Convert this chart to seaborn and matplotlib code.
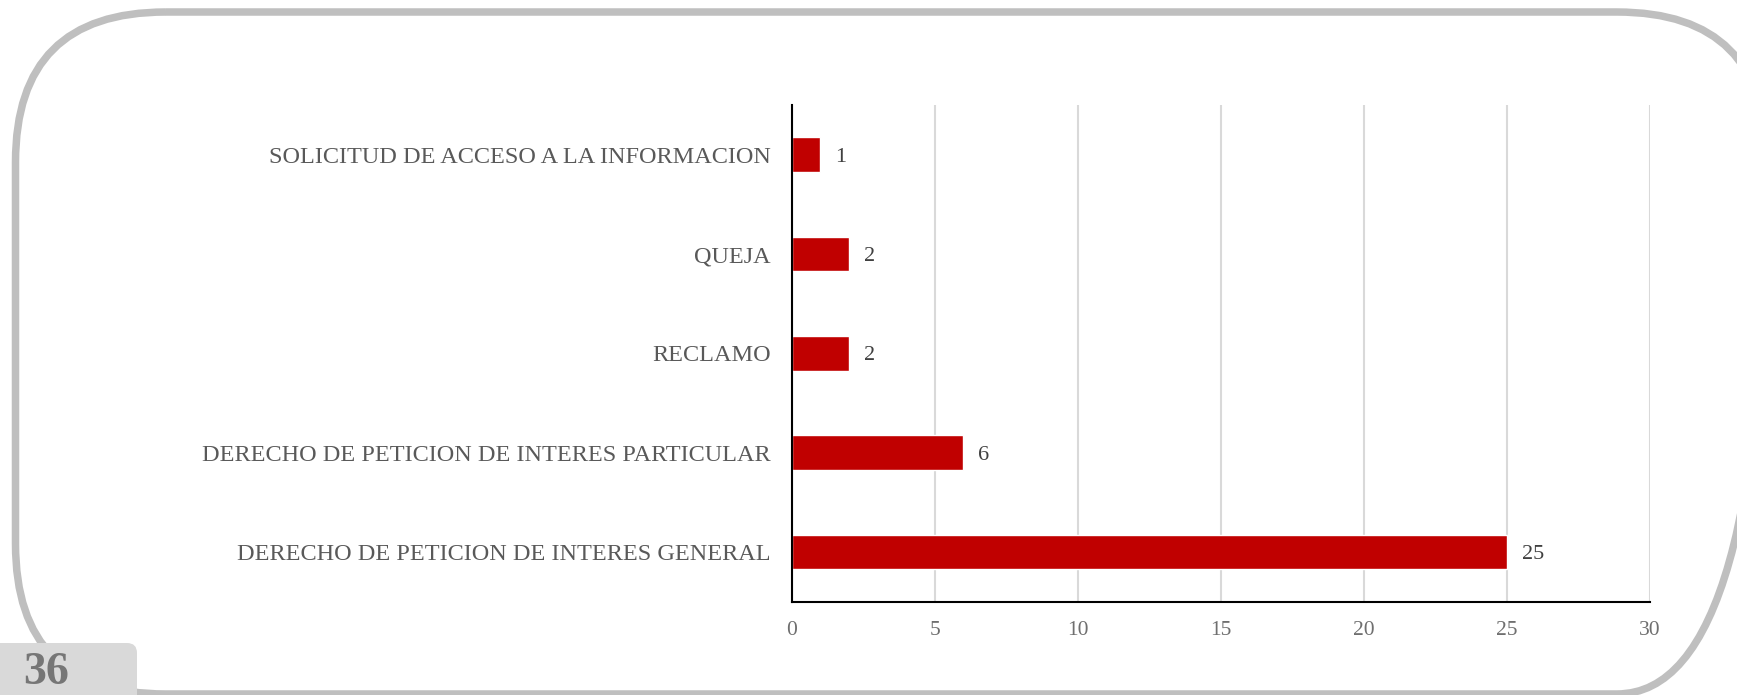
import matplotlib
matplotlib.use("Agg")
import matplotlib.pyplot as plt
import seaborn as sns
import pandas as pd
from matplotlib.patches import FancyBboxPatch

categories = [
    "SOLICITUD DE ACCESO A LA INFORMACION",
    "QUEJA",
    "RECLAMO",
    "DERECHO DE PETICION DE INTERES PARTICULAR",
    "DERECHO DE PETICION DE INTERES GENERAL",
]
values = [1, 2, 2, 6, 25]
x_ticks = [0, 5, 10, 15, 20, 25, 30]
page_number = "36"

sns.set_theme(style="white")
plt.rcParams["font.family"] = ["Liberation Serif", "DejaVu Serif"]

W, H = 1737, 695
fig = plt.figure(figsize=(W / 100, H / 100), dpi=100)

# background overlay for border decorations
bg = fig.add_axes([0, 0, 1, 1], zorder=0)
bg.set_xlim(0, W)
bg.set_ylim(H, 0)
bg.axis("off")
border = FancyBboxPatch((15.5, 12), 1767 - 15.5, 694 - 12,
                        boxstyle="round,pad=0,rounding_size=150",
                        facecolor="none", edgecolor="#BFBFBF", linewidth=5.4)
bg.add_patch(border)
box = FancyBboxPatch((-30, 643), 167, 100,
                     boxstyle="round,pad=0,rounding_size=10",
                     facecolor="#D9D9D9", edgecolor="none")
bg.add_patch(box)
bg.text(46, 694, page_number, ha="center", va="bottom", fontsize=33,
        fontweight="bold", color="#767676")

ax = fig.add_axes([791.5 / W, 1 - 601.7 / H, (1650 - 791.5) / W, (601.7 - 105) / H], zorder=1)
ax.patch.set_alpha(0)
df = pd.DataFrame({"cat": categories, "val": values})
sns.barplot(data=df, x="val", y="cat", orient="h", color="#C00000",
            width=0.35, saturation=1, ax=ax, order=categories)

ax.set_xlim(0, 30)
ax.set_ylim(4.5, -0.5)
ax.set_xticks(x_ticks)
ax.set_xticklabels([str(t) for t in x_ticks])
ax.set_xlabel("")
ax.set_ylabel("")
ax.grid(axis="x", color="#D9D9D9", linewidth=1.5)
ax.grid(axis="y", visible=False)
ax.set_axisbelow(True)
for s in ["top", "right"]:
    ax.spines[s].set_visible(False)
for s in ["left", "bottom"]:
    ax.spines[s].set_color("black")
    ax.spines[s].set_linewidth(1.5)
ax.tick_params(axis="y", length=0, labelsize=17.5, labelcolor="#595959", pad=15)
ax.tick_params(axis="x", length=0, labelsize=15.5, labelcolor="#6F6F6F", pad=14)

for i, v in enumerate(values):
    ax.annotate(str(v), (v, i), xytext=(11, 0), textcoords="offset points",
                va="center_baseline", ha="left", fontsize=16, color="#404040")

fig.savefig("out.png", dpi=100)
